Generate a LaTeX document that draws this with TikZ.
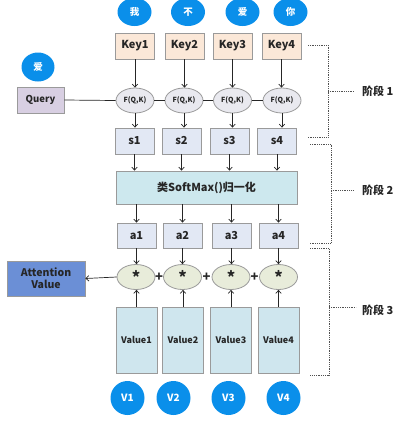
\documentclass[tikz,border=0pt]{standalone}
\usepackage{fontspec}
\setmainfont{Noto Sans CJK SC}
\usetikzlibrary{arrows.meta,shapes.geometric}
\definecolor{cblue}{HTML}{0A8FEA}
\definecolor{bordr}{HTML}{9A9A9A}
\definecolor{keyf}{HTML}{FBE8D8}
\definecolor{queryf}{HTML}{D8CFE2}
\definecolor{ff}{HTML}{E9E9EF}
\definecolor{sf}{HTML}{E2E8F4}
\definecolor{softf}{HTML}{CDE8EE}
\definecolor{valf}{HTML}{CFE6EE}
\definecolor{starf}{HTML}{E8ECDA}
\definecolor{attf}{HTML}{6B8FD6}
\definecolor{txt}{HTML}{262626}
\tikzset{
  bubble/.style={ellipse, fill=cblue, text=white, inner sep=0pt, font=\bfseries\fontsize{9.5}{10}\selectfont},
  box/.style={rectangle, draw=bordr, line width=0.8pt, inner sep=0pt, text=txt, font=\bfseries\fontsize{11}{12}\selectfont},
  keybox/.style={box, fill=keyf, minimum width=39pt, minimum height=26pt},
  sbox/.style={box, fill=sf, minimum width=39pt, minimum height=26pt},
  fnode/.style={ellipse, draw=bordr, line width=0.8pt, fill=ff, inner sep=0pt, minimum width=38pt, minimum height=25pt, text=txt, font=\bfseries\fontsize{7}{8}\selectfont},
  starnode/.style={ellipse, draw=bordr, line width=0.8pt, fill=starf, inner sep=0pt, minimum width=38pt, minimum height=25pt, text=txt, font=\bfseries\fontsize{16}{16}\selectfont},
  valbox/.style={box, fill=valf, minimum width=41pt, minimum height=66pt, font=\bfseries\fontsize{9}{10}\selectfont},
  arr/.style={draw=txt, line width=0.7pt, -{Straight Barb[length=3pt,width=5.5pt]}},
  ln/.style={draw=txt, line width=0.7pt},
  brk/.style={draw=txt!80, line width=0.8pt, densely dotted},
  stage/.style={text=txt, font=\bfseries\fontsize{11}{12}\selectfont},
}
\newcommand{\starmark}{\raisebox{-0.32em}{*}}
\begin{document}
\begin{tikzpicture}[x=1pt,y=-1pt]
\useasboundingbox (0,0) rectangle (416,429);
\begin{scope}
\clip (0,0) rectangle (416,429);
% top word bubbles
\node[bubble, minimum width=34pt, minimum height=28pt] (w1) at (134.5,12) {我};
\node[bubble, minimum width=34pt, minimum height=28pt] (w2) at (188,12) {不};
\node[bubble, minimum width=34pt, minimum height=28pt] (w3) at (242.5,12) {爱};
\node[bubble, minimum width=34pt, minimum height=28pt] (w4) at (290.5,12) {你};
\end{scope}
% query
\node[bubble, minimum width=33pt, minimum height=29pt] (qw) at (38,67) {爱};
\node[box, fill=queryf, minimum width=47pt, minimum height=26pt, font=\bfseries\fontsize{9.5}{10}\selectfont] (q) at (40.5,100) {Query};
% keys
\node[keybox] (k1) at (135,46) {Key1};
\node[keybox] (k2) at (184.5,46) {Key2};
\node[keybox] (k3) at (232.5,46) {Key3};
\node[keybox] (k4) at (281.5,46) {Key4};
% F nodes
\node[fnode] (f1) at (135,100.5) {F(Q,K)};
\node[fnode] (f2) at (184,100.5) {F(Q,K)};
\node[fnode] (f3) at (232.5,100.5) {F(Q,K)};
\node[fnode] (f4) at (282,100.5) {F(Q,K)};
% s
\node[sbox] (s1) at (134.5,141) {s1};
\node[sbox] (s2) at (181.5,141) {s2};
\node[sbox] (s3) at (229.5,141) {s3};
\node[sbox] (s4) at (277,141) {s4};
% softmax
\node[box, fill=softf, minimum width=181pt, minimum height=33pt] (soft) at (206.5,187.5) {类SoftMax()归一化};
% a
\node[sbox, minimum height=25pt] (a1) at (136.5,235.5) {a1};
\node[sbox, minimum height=25pt] (a2) at (182.5,235.5) {a2};
\node[sbox, minimum height=25pt] (a3) at (231.5,235.5) {a3};
\node[sbox, minimum height=25pt] (a4) at (278.5,235.5) {a4};
% star
\node[starnode] (m1) at (136,277) {\starmark};
\node[starnode] (m2) at (182.5,277) {\starmark};
\node[starnode] (m3) at (231,277) {\starmark};
\node[starnode] (m4) at (278.5,277) {\starmark};
\node[text=txt, font=\bfseries\fontsize{13}{13}\selectfont, inner sep=0pt] (p1) at (159.2,277) {+};
\node[text=txt, font=\bfseries\fontsize{13}{13}\selectfont, inner sep=0pt] (p2) at (206.5,277) {+};
\node[text=txt, font=\bfseries\fontsize{13}{13}\selectfont, inner sep=0pt] (p3) at (254.5,277) {+};
% attention value
\node[box, fill=attf, minimum width=78pt, minimum height=35pt, align=center, font=\bfseries\fontsize{10.5}{12}\selectfont] (att) at (46,278.5) {Attention\\Value};
% values
\node[valbox] (v1) at (136.5,340) {Value1};
\node[valbox] (v2) at (183,340) {Value2};
\node[valbox] (v3) at (231,340) {Value3};
\node[valbox] (v4) at (278.5,340) {Value4};
% V bubbles
\node[bubble, minimum size=34pt, font=\bfseries\fontsize{10}{11}\selectfont] (b1) at (127.5,398) {V1};
\node[bubble, minimum size=34pt, font=\bfseries\fontsize{10}{11}\selectfont] (b2) at (173.5,398) {V2};
\node[bubble, minimum size=34pt, font=\bfseries\fontsize{10}{11}\selectfont] (b3) at (228.5,398) {V3};
\node[bubble, minimum size=34pt, font=\bfseries\fontsize{10}{11}\selectfont] (b4) at (283.5,398) {V4};
% connectors
\draw[ln] (q.east) -- (f1.west);
\draw[ln] (f1.east) -- (f2.west);
\draw[ln] (f2.east) -- (f3.west);
\draw[ln] (f3.east) -- (f4.west);
\foreach \i in {1,2,3,4}{
  \draw[arr] (k\i.south) -- (k\i.south |- f\i.north);
  \draw[arr] (f\i.south) -- (f\i.south |- s\i.north);
  \draw[arr] (s\i.south) -- (s\i.south |- soft.north);
  \draw[arr] (a\i.south |- soft.south) -- (a\i.north);
  \draw[arr] (a\i.south) -- (a\i.south |- m\i.north);
  \draw[arr] (v\i.north) -- (v\i.north |- m\i.south);
}
\draw[arr] (m1.west) -- (att.east);
% stage brackets
\coordinate (t1a) at (308,45); \coordinate (t1b) at (328,45);
\coordinate (t1c) at (328,137); \coordinate (t1d) at (308,137);
\coordinate (t1m) at (328,91); \coordinate (t1e) at (354,91);
\draw[brk] (t1a) -- (t1b) -- (t1c) -- (t1d);
\draw[brk] (t1m) -- (t1e);
\node[stage, anchor=west, inner sep=0pt] (st1) at (362,91) {阶段 1};
\coordinate (t2a) at (310,144); \coordinate (t2b) at (331,144);
\coordinate (t2c) at (331,243); \coordinate (t2d) at (310,243);
\coordinate (t2m) at (331,190); \coordinate (t2e) at (353,190);
\draw[brk] (t2a) -- (t2b) -- (t2c) -- (t2d);
\draw[brk] (t2m) -- (t2e);
\node[stage, anchor=west, inner sep=0pt] (st2) at (362,190) {阶段 2};
\coordinate (t3a) at (310,248); \coordinate (t3b) at (329,248);
\coordinate (t3c) at (329,375); \coordinate (t3d) at (310,375);
\coordinate (t3m) at (329,307.5); \coordinate (t3e) at (356,307.5);
\draw[brk] (t3a) -- (t3b) -- (t3c) -- (t3d);
\draw[brk] (t3m) -- (t3e);
\node[stage, anchor=west, inner sep=0pt] (st3) at (362,310.5) {阶段 3};
\end{tikzpicture}
\end{document}
